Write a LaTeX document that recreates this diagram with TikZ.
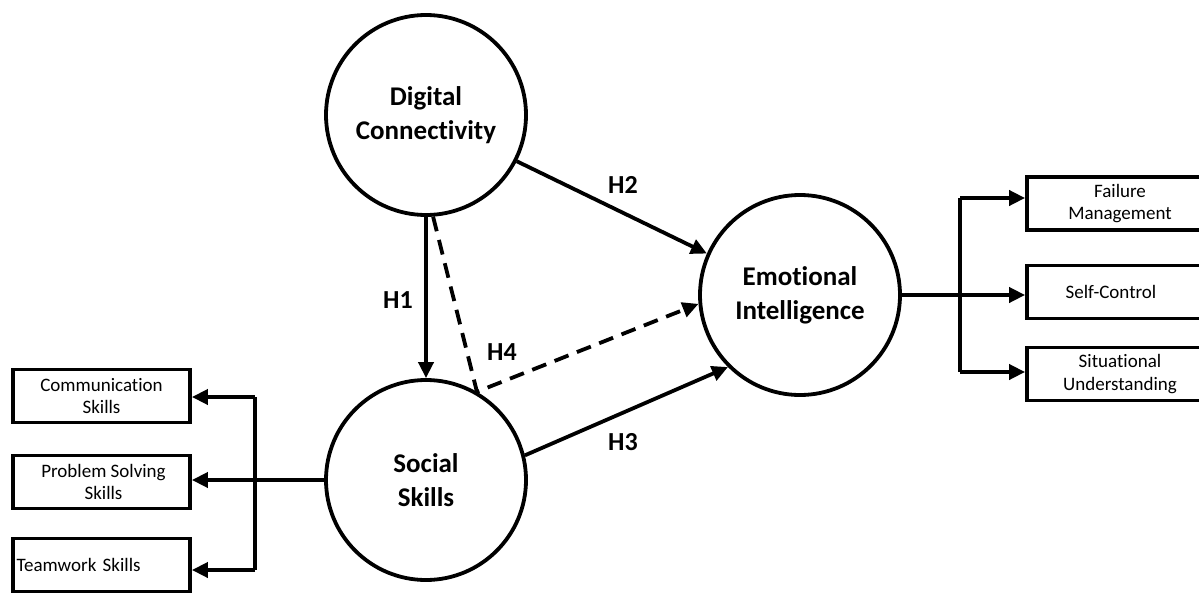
\documentclass[tikz,border=0pt]{standalone}
\usepackage{fontspec}
\setmainfont{Carlito}[RawFeature={-liga}]
\usetikzlibrary{arrows.meta}
\tikzset{
  lat/.style={circle, draw, line width=3.8pt, minimum size=200pt, inner sep=0pt, align=center, font=\fontsize{27}{34}\selectfont\bfseries},
  ind/.style={draw, line width=3.8pt, minimum height=53pt, inner sep=0pt, align=center, font=\fontsize{19}{22.5}\selectfont},
  conn/.style={line width=3.8pt},
  arr/.style={line width=3.8pt, -{Triangle[length=16pt,width=15pt]}},
  hyp/.style={font=\fontsize{26}{30}\selectfont\bfseries}
}
\begin{document}
\begin{tikzpicture}[x=1pt,y=-1pt]
\clip (0,0) rectangle (1199,594);
\fill[white] (0,0) rectangle (1199,594);
% latent constructs
\node[lat] (dc) at (426,115) {Digital\\Connectivity};
\node[lat] (ei) at (800,295) {Emotional\\Intelligence};
\node[lat] (ss) at (426,480) {Social\\Skills};
% right indicators
\node[ind, minimum width=186pt] (fm) at (1120,203.5) {Failure\\Management};
\node[ind, minimum width=186pt] (sc) at (1120,292) {\hspace*{-18pt}\raisebox{-2pt}{Self-Control}};
\node[ind, minimum width=186pt] (su) at (1120,374) {Situational\\Understanding};
% left indicators
\node[ind, minimum width=177pt] (cs) at (101.5,396) {Communication\\Skills};
\node[ind, minimum width=177pt] (ps) at (101.5,482) {\hspace*{4pt}Problem Solving\\\hspace*{4pt}Skills};
\node[ind, minimum width=177pt, text width=170pt, align=left] (ts) at (101.5,565) {Teamwork Skills};
% structural paths
\draw[arr] (dc.south) -- (ss.north);
\draw[arr] (dc.-27) -- (ei.156);
\draw[arr] (ss.14) -- (ei.225);
\draw[arr, dash pattern=on 15pt off 9pt] (dc.-86) -- (ss.60) -- (ei.185);
% hypothesis labels
\node[hyp] (h1) at (398,300) {H1};
\node[hyp] (h2) at (623,185) {H2};
\node[hyp] (h3) at (623,442) {H3};
\node[hyp] (h4) at (502,352) {H4};
% right measurement paths
\coordinate (rt) at (960,198);
\coordinate (rb) at (960,372);
\draw[conn] (ei.east) -- (ei.east -| rt);
\draw[conn] (rt) -- (rb);
\draw[arr] (rt) -- (rt -| fm.west);
\draw[arr] (ei.east) -- (ei.east -| sc.west);
\draw[arr] (rb) -- (rb -| su.west);
% left measurement paths
\coordinate (lt) at (255,397);
\coordinate (lb) at (255,570);
\draw[conn] (lt) -- (lb);
\draw[arr] (lt) -- (lt -| cs.east);
\draw[arr] (ss.west) -- (ss.west -| ps.east);
\draw[arr] (lb) -- (lb -| ts.east);
\end{tikzpicture}
\end{document}
